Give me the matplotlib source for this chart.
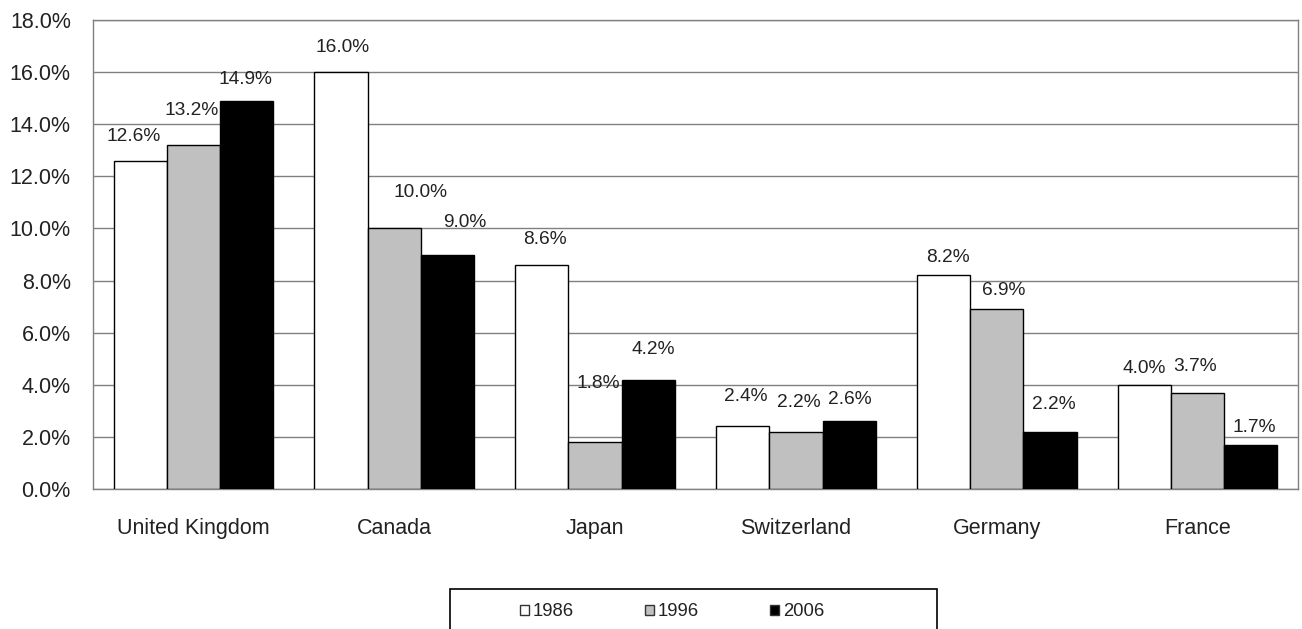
import matplotlib.pyplot as plt
import numpy as np
from matplotlib.patches import Patch, Rectangle

plt.rcParams['font.family'] = ['Liberation Sans', 'DejaVu Sans']

countries = ['United Kingdom', 'Canada', 'Japan', 'Switzerland', 'Germany', 'France']
years = ['1986', '1996', '2006']
share_1986 = [12.6, 16.0, 8.6, 2.4, 8.2, 4.0]
share_1996 = [13.2, 10.0, 1.8, 2.2, 6.9, 3.7]
share_2006 = [14.9, 9.0, 4.2, 2.6, 2.2, 1.7]

colors = ['white', '#c0c0c0', 'black']
# where each value label sits relative to its bar top (pixels)
label_offsets = [
    [(-7, 24), (2, 25), (3, 25), (3, 30), (4, 18), (0, 16)],
    [(-2, 35), (26, 36), (3, 59), (3, 29), (7, 19), (-3, 26)],
    [(-1, 21), (17, 32), (5, 30), (1, 22), (4, 27), (3, 17)],
]

fig = plt.figure(figsize=(13.02, 6.29), dpi=100)
ax = fig.add_axes([93 / 1302, 1 - 489 / 629, 1205 / 1302, 469 / 629])

x = np.arange(len(countries))
w = 0.265
series = [share_1986, share_1996, share_2006]
for k, vals in enumerate(series):
    pos = x + (k - 1) * w
    ax.bar(pos, vals, width=w, color=colors[k], edgecolor='black', linewidth=1.0, zorder=3)
    for xi, v, off in zip(pos, vals, label_offsets[k]):
        ax.annotate(f'{v:.1f}%', (xi, v), xytext=off, textcoords='offset pixels',
                    ha='center', va='center', fontsize=13.8, color='#222222')

ax.set_xlim(-0.5, len(countries) - 0.5)
ax.set_ylim(0, 18)
ax.set_yticks(np.arange(0, 18.1, 2))
ax.set_yticklabels([f'{t:.1f}%' for t in np.arange(0, 18.1, 2)])
ax.set_xticks(x)
ax.set_xticklabels(countries)
ax.tick_params(axis='both', length=0, labelsize=15.5, labelcolor='#222222')
ax.tick_params(axis='y', pad=16)
ax.tick_params(axis='x', pad=21)
ax.grid(axis='y', color='#808080', linewidth=1.0, zorder=0)
for sp in ax.spines.values():
    sp.set_color('#808080')
    sp.set_linewidth(1.0)

# legend frame runs past the bottom edge of the figure
fig.patches.append(Rectangle((450 / 1302, -0.05), 487 / 1302, 1 - 589 / 629 + 0.05,
                             transform=fig.transFigure, facecolor='white',
                             edgecolor='black', linewidth=1.2))
handles = [Patch(facecolor=c, edgecolor='#333333', linewidth=1.0) for c in colors]
fig.legend(handles, years, loc='center', bbox_to_anchor=(672 / 1302, 1 - 612 / 629),
           ncol=3, frameon=False, fontsize=13.3, handlelength=0.5, handleheight=0.5,
           handletextpad=0.2, columnspacing=3.84, labelcolor='#222222')

fig.savefig('out.png', dpi=100)
